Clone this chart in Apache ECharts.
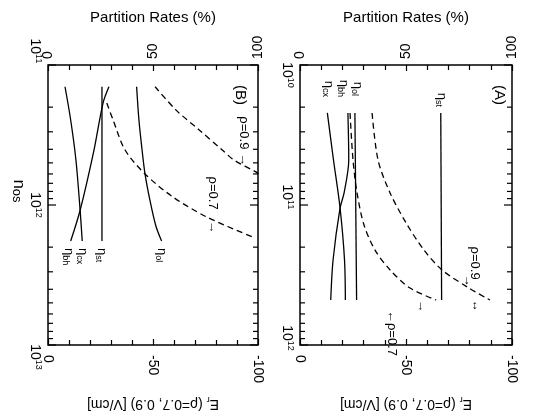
<!DOCTYPE html>
<html><head><meta charset="utf-8">
<script src="https://cdn.jsdelivr.net/npm/echarts@6/dist/echarts.min.js"></script>
<style>html,body{margin:0;padding:0;background:#fff}#c{width:548px;height:417px}</style>
</head><body><div id="c"></div>
<script>
// ================= DATA =================
// Panel (B): n_os from 1e11 to 1e13 (log axis)
const B_logTicks = [1e11,2e11,3e11,4e11,5e11,6e11,7e11,8e11,9e11,1e12,2e12,3e12,4e12,5e12,6e12,7e12,8e12,9e12,1e13];
const B_cx_n = [1.43e11, 2.47e11, 4.77e11, 1.09e12, 1.81e12];
const B_cx   = [8.1, 10.8, 13.3, 15.3, 16.3];
const B_bh_n = [1.43e11, 1.87e11, 4.05e11, 1.09e12, 1.81e12];
const B_bh   = [29.0, 26.2, 21.9, 15.3, 10.8];
const B_st_n = [1.43e11, 5e11, 1.81e12];
const B_st   = [25.7, 25.7, 25.7];
const B_ol_n = [1.43e11, 2.47e11, 4.05e11, 6.0e11, 9.2e11, 1.4e12, 1.81e12];
const B_ol   = [42.2, 43.3, 44.8, 46.2, 48.5, 51.3, 54.1];
const B_e09_n = [1.43e11, 2.1e11, 2.91e11, 4.05e11, 4.77e11, 5.8e11, 6.2e11];
const B_e09   = [-51, -61, -72, -83, -88.5, -99, -102];
const B_e07_n = [1.87e11, 2.47e11, 4.05e11, 6.0e11, 8.77e11, 1.22e12, 1.72e12];
const B_e07   = [-28, -31, -36.7, -46.2, -59.5, -75.7, -98.6];

// Panel (A): n_os from 1e10 to 1e12 (log axis)
const A_logTicks = [1e10,2e10,3e10,4e10,5e10,6e10,7e10,8e10,9e10,1e11,2e11,3e11,4e11,5e11,6e11,7e11,8e11,9e11,1e12];
const A_cx_n = [2.2e10, 4.77e10, 1.05e11, 2.47e11, 4.77e11];
const A_cx   = [12.9, 15.8, 18.9, 21.0, 21.4];
const A_bh_n = [2.2e10, 4.77e10, 8.2e10, 1.05e11, 2.47e11, 4.77e11];
const A_bh   = [22.6, 23.0, 20.8, 18.9, 15.6, 14.5];
const A_st_n = [2.2e10, 4.77e11];
const A_st   = [66.4, 66.8];
const A_ol_n = [2.2e10, 4.77e11];
const A_ol   = [25.9, 26.7];
const A_e09_n = [2.2e10, 4.77e10, 8.2e10, 1.34e11, 2.1e11, 2.91e11, 3.92e11, 4.77e11];
const A_e09   = [-34.0, -36.8, -42.5, -50.0, -58.5, -67.0, -79.7, -89.6];
const A_e07_n = [2.2e10, 4.77e10, 8.2e10, 1.39e11, 2.1e11, 2.91e11, 3.92e11, 4.77e11];
const A_e07   = [-23.6, -25.0, -26.9, -30.2, -35.4, -42.5, -51.9, -64.2];

// ================= CHART =================
const FONT = "'Liberation Sans', Arial, Helvetica, sans-serif";
const BLACK = '#000';
const chart = echarts.init(document.getElementById('c'), null, {renderer: 'canvas'});
const zip = (n, v) => v.map((x, i) => [x, n[i]]);

// shifts of decade labels along the axis (screen px, + = down)
const B_labShift = {11: -14, 12: 0, 13: 12};
const A_labShift = {10: 10, 11: -8, 12: -7};
const rich = {
  b: {fontSize: 14, fontFamily: FONT, color: BLACK, lineHeight: 16},
  s: {fontSize: 9, fontFamily: FONT, color: BLACK, lineHeight: 9, verticalAlign: 'top'}
};
for (let w = 2; w <= 40; w += 2) rich['g' + w] = {width: w, fontSize: 9};
function logFormatter(shifts) {
  return function (v) {
    const e = Math.round(Math.log10(v));
    const d = shifts[e] || 0;
    const w = Math.min(40, Math.round(Math.abs(d)) * 2);
    let s = '{b|10}{s|' + e + '}';
    if (d > 0 && w) s = '{g' + w + '|\u00a0}' + s;
    if (d < 0 && w) s = s + '{g' + w + '|\u00a0}';
    return s;
  };
}

function topAxis(gi) {
  return {
    gridIndex: gi, type: 'value', position: 'top', min: 0, max: 100, interval: 50,
    name: 'Partition Rates (%)', nameLocation: 'middle', nameGap: 40,
    nameTextStyle: {fontSize: 15, fontFamily: FONT, color: BLACK},
    axisLine: {show: false},
    axisTick: {show: true, inside: true, length: 6, lineStyle: {color: BLACK, width: 1.2}},
    minorTick: {show: true, splitNumber: 5, length: 5, lineStyle: {color: BLACK, width: 1.2}},
    axisLabel: {rotate: -90, margin: 6, fontSize: 14, fontFamily: FONT, color: BLACK},
    splitLine: {show: false}
  };
}
function bottomAxis(gi) {
  return {
    gridIndex: gi, type: 'value', position: 'bottom', min: -100, max: 0, interval: 50, inverse: true,
    name: '{t|E}{u|r}{t| (ρ=0.7, 0.9) [V/cm]}', nameLocation: 'middle', nameGap: 50, nameRotate: 180,
    nameTextStyle: {
      fontFamily: FONT, color: BLACK,
      rich: {t: {fontSize: 14, fontFamily: FONT, color: BLACK, lineHeight: 18},
             u: {fontSize: 9, fontFamily: FONT, color: BLACK, lineHeight: 9, verticalAlign: 'bottom'}}
    },
    axisLine: {show: false},
    axisTick: {show: true, inside: true, length: 6, lineStyle: {color: BLACK, width: 1.2}},
    minorTick: {show: true, splitNumber: 5, length: 5, lineStyle: {color: BLACK, width: 1.2}},
    axisLabel: {rotate: -90, margin: 10, fontSize: 14, fontFamily: FONT, color: BLACK},
    splitLine: {show: false}
  };
}
function logAxis(gi, min, max, shifts, withName) {
  const ax = {
    gridIndex: gi, type: 'log', logBase: 10, min: min, max: max, inverse: true,
    axisLine: {show: false}, axisTick: {show: false}, splitLine: {show: false},
    axisLabel: {rotate: -90, margin: 5, formatter: logFormatter(shifts), rich: rich}
  };
  if (withName) {
    ax.name = '{n|n}{o|os}';
    ax.nameLocation = 'middle';
    ax.nameRotate = -90;
    ax.nameGap = 17;
    ax.nameTextStyle = {
      padding: [0, 28, 0, 0],
      rich: {n: {fontSize: 17, fontFamily: FONT, color: BLACK, lineHeight: 18},
             o: {fontSize: 13, fontFamily: FONT, color: BLACK, lineHeight: 13, verticalAlign: 'bottom'}}
    };
  }
  return ax;
}
function tickSeries(xi, yi, ticks) {
  return {
    type: 'custom', xAxisIndex: xi, yAxisIndex: yi, silent: true, clip: false,
    dimensions: ['n'], encode: {y: 0},
    data: ticks.map(v => [v]),
    renderItem: function (params, api) {
      const v = api.value(0);
      const cs = params.coordSys;
      const y = api.coord([cs.x, v])[1];
      const lg = Math.log10(v);
      const major = Math.abs(lg - Math.round(lg)) < 1e-6;
      const L = major ? 8 : 5;
      const st = {stroke: BLACK, lineWidth: 1.2};
      return {type: 'group', children: [
        {type: 'line', shape: {x1: cs.x, y1: y, x2: cs.x + L, y2: y}, style: st},
        {type: 'line', shape: {x1: cs.x + cs.width, y1: y, x2: cs.x + cs.width - L, y2: y}, style: st}
      ]};
    }
  };
}
function solid(xi, yi, n, v, smooth) {
  return {type: 'line', xAxisIndex: xi, yAxisIndex: yi, data: zip(n, v), showSymbol: false,
    smooth: smooth, silent: true, lineStyle: {color: BLACK, width: 1.3}};
}
function dashed(xi, yi, n, v) {
  return {type: 'line', xAxisIndex: xi, yAxisIndex: yi, data: zip(n, v), showSymbol: false,
    smooth: 0.3, silent: true, clip: false, lineStyle: {color: BLACK, width: 1.3, type: [6, 4]}};
}

const option = {
  animation: false,
  backgroundColor: '#fff',
  grid: [
    {left: 48, top: 65, width: 210, height: 280, show: true, borderColor: BLACK, borderWidth: 1.5, backgroundColor: 'transparent'},
    {left: 300, top: 65, width: 212, height: 280, show: true, borderColor: BLACK, borderWidth: 1.5, backgroundColor: 'transparent'}
  ],
  xAxis: [topAxis(0), bottomAxis(0), topAxis(1), bottomAxis(1)],
  yAxis: [logAxis(0, 1e11, 1e13, B_labShift, true), logAxis(1, 1e10, 1e12, A_labShift, false)],
  series: [
    tickSeries(0, 0, B_logTicks),
    tickSeries(2, 1, A_logTicks),
    solid(0, 0, B_cx_n, B_cx, 0.3),
    solid(0, 0, B_bh_n, B_bh, 0.3),
    solid(0, 0, B_st_n, B_st, false),
    solid(0, 0, B_ol_n, B_ol, 0.3),
    dashed(1, 0, B_e09_n, B_e09),
    dashed(1, 0, B_e07_n, B_e07),
    solid(2, 1, A_cx_n, A_cx, 0.3),
    solid(2, 1, A_bh_n, A_bh, 0.3),
    solid(2, 1, A_st_n, A_st, false),
    solid(2, 1, A_ol_n, A_ol, false),
    dashed(3, 1, A_e09_n, A_e09),
    dashed(3, 1, A_e07_n, A_e07)
  ]
};
chart.setOption(option);

// ================= ANNOTATIONS =================
const etaRich = {
  e: {fontSize: 13, fontFamily: FONT, color: BLACK, lineHeight: 15},
  s: {fontSize: 9, fontFamily: FONT, color: BLACK, lineHeight: 9, verticalAlign: 'bottom'}
};
function px(xi, yi, pt) { return chart.convertToPixel({xAxisIndex: xi, yAxisIndex: yi}, pt); }
function rotText(p, text, align, r, fs) {
  return {type: 'text', x: p[0], y: p[1], rotation: -Math.PI / 2, silent: true,
    style: {text: text, rich: r, align: align, verticalAlign: 'middle', fill: BLACK,
            fontSize: fs || 12, fontFamily: FONT}};
}
const g = [];
// eta labels of panel B (below curve ends)
[[B_bh_n, B_bh, 'bh', -2], [B_cx_n, B_cx, 'cx', 0], [B_st_n, B_st, 'st', 0], [B_ol_n, B_ol, 'ol', 0]].forEach(c => {
  const k = c[0].length - 1;
  const p = px(0, 0, [c[1][k], c[0][k]]);
  g.push(rotText([p[0] + c[3], p[1] + 7], '{e|η}{s|' + c[2] + '}', 'left', etaRich));
});
// eta labels of panel A (above curve starts)
[[A_cx_n, A_cx, 'cx', 1, 16], [A_bh_n, A_bh, 'bh', -4, 16], [A_ol_n, A_ol, 'ol', 3, 17], [A_st_n, A_st, 'st', 1, 6]].forEach(c => {
  const p = px(2, 1, [c[1][0], c[0][0]]);
  g.push(rotText([p[0] + c[3], p[1] - c[4]], '{e|η}{s|' + c[2] + '}', 'right', etaRich));
});
// panel letters and rho labels (anchored in data space)
g.push(rotText(px(0, 0, [91.4, 1.64e11]), '(B)', 'center', null, 15));
g.push(rotText(px(2, 1, [94, 1.64e10]), '(A)', 'center', null, 15));
g.push(rotText(px(1, 0, [-92.9, 3.5e11]), 'ρ=0.9 →', 'center', null, 13));
g.push(rotText(px(1, 0, [-78.6, 1.0e12]), 'ρ=0.7   →', 'center', null, 13));
g.push(rotText(px(3, 1, [-82.5, 2.6e11]), 'ρ=0.9', 'center', null, 13));
g.push(rotText(px(3, 1, [-79.2, 3.49e11]), '→', 'center', null, 12));
g.push(rotText(px(3, 1, [-83.0, 5.27e11]), '↔', 'center', null, 12));
g.push(rotText(px(3, 1, [-57.5, 5.27e11]), '→', 'center', null, 13));
g.push(rotText(px(3, 1, [-43.4, 8.2e11]), '←ρ=0.7', 'center', null, 13));
chart.setOption({graphic: g});
</script>
</body></html>
